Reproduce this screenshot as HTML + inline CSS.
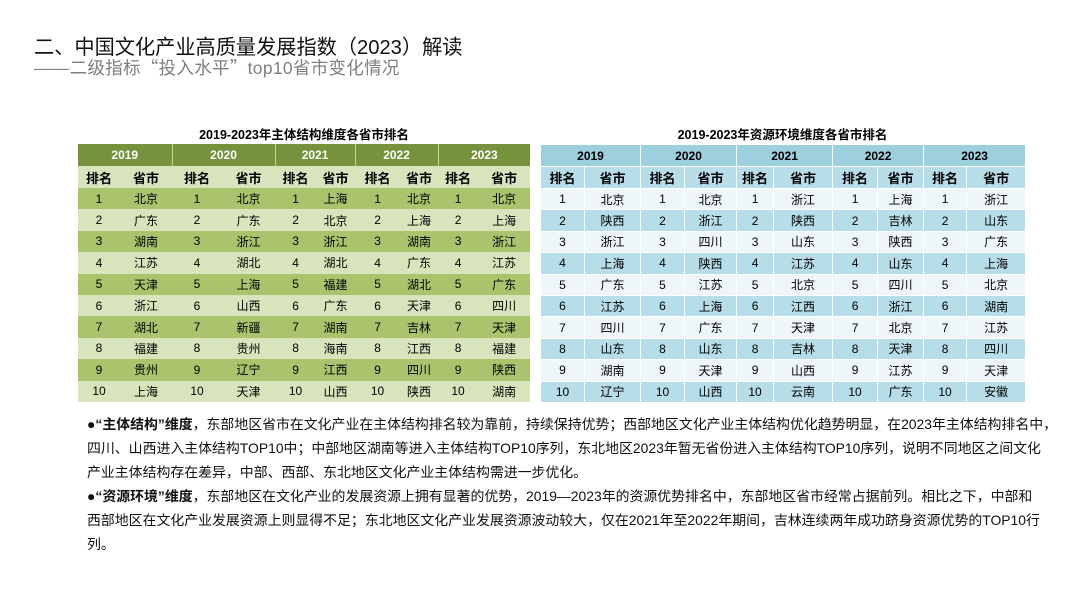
<!DOCTYPE html>
<html><head><meta charset="utf-8"><style>
*{margin:0;padding:0;box-sizing:border-box}
body{width:1080px;height:608px;background:#fff;font-family:"Liberation Sans","Noto Sans CJK SC",sans-serif;position:relative;overflow:hidden;color:#000}
.t1{position:absolute;left:34px;top:31px;font-size:20.2px;color:#111;white-space:nowrap}
.t2{position:absolute;left:34px;top:55px;font-size:17.5px;letter-spacing:0.3px;color:#7f7f7f;white-space:nowrap}
.cj{font-family:"Noto Sans CJK SC",sans-serif}
.cap{position:absolute;font-weight:bold;font-size:12.5px;white-space:nowrap;text-align:center}
table{position:absolute;border-collapse:collapse;table-layout:fixed;font-size:12px}
td{text-align:center;padding:0;white-space:nowrap}
#g{left:78px;top:144px;width:452px}
#g tr.y td{background:#77923c;color:#fff;font-weight:bold;height:22px;border-left:1px solid #c4d79b}
#g tr.y td:first-child{border-left:none}
#g tr.s td{background:#d8e4bc;font-weight:bold;height:22px;font-size:13px}
#g tr.d td{height:21.4px}
#g tr.d:nth-child(odd) td{background:#a9c46c}
#g tr.d:nth-child(even) td{background:#d8e4bc}
#b{left:540px;top:144px;width:485px}
#b td{border:1px solid #fff}
#b tr.y td{background:#9dcfdc;font-weight:bold;height:22px}
#b tr.s td{background:#b7dde8;font-weight:bold;height:22px;font-size:13px}
#b tr.d td{height:21.4px}
#b tr.d:nth-child(odd) td{background:#eef6f9}
#b tr.d:nth-child(even) td{background:#b7dde8}
.txt{position:absolute;left:87px;top:412px;font-size:13.9px;line-height:24px;white-space:nowrap;color:#111}
</style></head><body>
<div class="t1">二、中国文化产业高质量发展指数（2023）解读</div>
<div class="t2">——二级指标<span class="cj">“</span>投入水平<span class="cj">”</span>top10省市变化情况</div>
<div class="cap" style="left:78px;width:452px;top:124px">2019-2023年主体结构维度各省市排名</div>
<div class="cap" style="left:540px;width:485px;top:124px">2019-2023年资源环境维度各省市排名</div>
<table id="g">
<colgroup><col style="width:42px"><col style="width:52px"><col style="width:50px"><col style="width:53px"><col style="width:41px"><col style="width:39px"><col style="width:45px"><col style="width:38px"><col style="width:40px"><col style="width:52px"></colgroup>
<tr class="y"><td colspan="2">2019</td><td colspan="2">2020</td><td colspan="2">2021</td><td colspan="2">2022</td><td colspan="2">2023</td></tr>
<tr class="s"><td>排名</td><td>省市</td><td>排名</td><td>省市</td><td>排名</td><td>省市</td><td>排名</td><td>省市</td><td>排名</td><td>省市</td></tr>
<tr class="d"><td>1</td><td>北京</td><td>1</td><td>北京</td><td>1</td><td>上海</td><td>1</td><td>北京</td><td>1</td><td>北京</td></tr>
<tr class="d"><td>2</td><td>广东</td><td>2</td><td>广东</td><td>2</td><td>北京</td><td>2</td><td>上海</td><td>2</td><td>上海</td></tr>
<tr class="d"><td>3</td><td>湖南</td><td>3</td><td>浙江</td><td>3</td><td>浙江</td><td>3</td><td>湖南</td><td>3</td><td>浙江</td></tr>
<tr class="d"><td>4</td><td>江苏</td><td>4</td><td>湖北</td><td>4</td><td>湖北</td><td>4</td><td>广东</td><td>4</td><td>江苏</td></tr>
<tr class="d"><td>5</td><td>天津</td><td>5</td><td>上海</td><td>5</td><td>福建</td><td>5</td><td>湖北</td><td>5</td><td>广东</td></tr>
<tr class="d"><td>6</td><td>浙江</td><td>6</td><td>山西</td><td>6</td><td>广东</td><td>6</td><td>天津</td><td>6</td><td>四川</td></tr>
<tr class="d"><td>7</td><td>湖北</td><td>7</td><td>新疆</td><td>7</td><td>湖南</td><td>7</td><td>吉林</td><td>7</td><td>天津</td></tr>
<tr class="d"><td>8</td><td>福建</td><td>8</td><td>贵州</td><td>8</td><td>海南</td><td>8</td><td>江西</td><td>8</td><td>福建</td></tr>
<tr class="d"><td>9</td><td>贵州</td><td>9</td><td>辽宁</td><td>9</td><td>江西</td><td>9</td><td>四川</td><td>9</td><td>陕西</td></tr>
<tr class="d"><td>10</td><td>上海</td><td>10</td><td>天津</td><td>10</td><td>山西</td><td>10</td><td>陕西</td><td>10</td><td>湖南</td></tr>
</table>
<table id="b">
<colgroup><col style="width:44px"><col style="width:56px"><col style="width:44px"><col style="width:52px"><col style="width:37px"><col style="width:59px"><col style="width:45px"><col style="width:46px"><col style="width:43px"><col style="width:59px"></colgroup>
<tr class="y"><td colspan="2">2019</td><td colspan="2">2020</td><td colspan="2">2021</td><td colspan="2">2022</td><td colspan="2">2023</td></tr>
<tr class="s"><td>排名</td><td>省市</td><td>排名</td><td>省市</td><td>排名</td><td>省市</td><td>排名</td><td>省市</td><td>排名</td><td>省市</td></tr>
<tr class="d"><td>1</td><td>北京</td><td>1</td><td>北京</td><td>1</td><td>浙江</td><td>1</td><td>上海</td><td>1</td><td>浙江</td></tr>
<tr class="d"><td>2</td><td>陕西</td><td>2</td><td>浙江</td><td>2</td><td>陕西</td><td>2</td><td>吉林</td><td>2</td><td>山东</td></tr>
<tr class="d"><td>3</td><td>浙江</td><td>3</td><td>四川</td><td>3</td><td>山东</td><td>3</td><td>陕西</td><td>3</td><td>广东</td></tr>
<tr class="d"><td>4</td><td>上海</td><td>4</td><td>陕西</td><td>4</td><td>江苏</td><td>4</td><td>山东</td><td>4</td><td>上海</td></tr>
<tr class="d"><td>5</td><td>广东</td><td>5</td><td>江苏</td><td>5</td><td>北京</td><td>5</td><td>四川</td><td>5</td><td>北京</td></tr>
<tr class="d"><td>6</td><td>江苏</td><td>6</td><td>上海</td><td>6</td><td>江西</td><td>6</td><td>浙江</td><td>6</td><td>湖南</td></tr>
<tr class="d"><td>7</td><td>四川</td><td>7</td><td>广东</td><td>7</td><td>天津</td><td>7</td><td>北京</td><td>7</td><td>江苏</td></tr>
<tr class="d"><td>8</td><td>山东</td><td>8</td><td>山东</td><td>8</td><td>吉林</td><td>8</td><td>天津</td><td>8</td><td>四川</td></tr>
<tr class="d"><td>9</td><td>湖南</td><td>9</td><td>天津</td><td>9</td><td>山西</td><td>9</td><td>江苏</td><td>9</td><td>天津</td></tr>
<tr class="d"><td>10</td><td>辽宁</td><td>10</td><td>山西</td><td>10</td><td>云南</td><td>10</td><td>广东</td><td>10</td><td>安徽</td></tr>
</table>
<div class="txt">●<b>“主体结构”维度</b>，东部地区省市在文化产业在主体结构排名较为靠前，持续保持优势；西部地区文化产业主体结构优化趋势明显，在2023年主体结构排名中，<br>四川、山西进入主体结构TOP10中；中部地区湖南等进入主体结构TOP10序列，东北地区2023年暂无省份进入主体结构TOP10序列，说明不同地区之间文化<br>产业主体结构存在差异，中部、西部、东北地区文化产业主体结构需进一步优化。<br>●<b>“资源环境”维度</b>，东部地区在文化产业的发展资源上拥有显著的优势，2019—2023年的资源优势排名中，东部地区省市经常占据前列。相比之下，中部和<br>西部地区在文化产业发展资源上则显得不足；东北地区文化产业发展资源波动较大，仅在2021年至2022年期间，吉林连续两年成功跻身资源优势的TOP10行<br>列。</div>
</body></html>
